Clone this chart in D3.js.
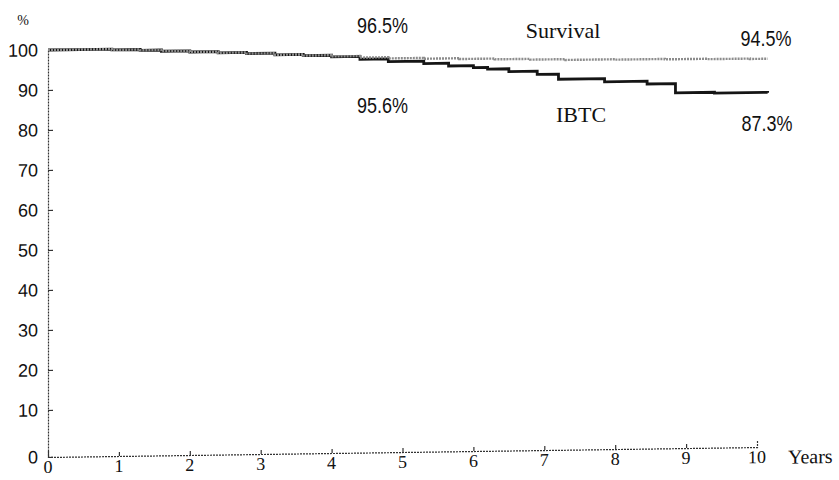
<!DOCTYPE html>
<html lang="en">
<head>
<meta charset="UTF-8">
<title>Survival and IBTC</title>
<script src="https://cdn.jsdelivr.net/npm/d3@7"></script>
<style>
  html, body { margin: 0; padding: 0; background: #fff; }
  svg { display: block; }
  .sans { font-family: "Liberation Sans Narrow", "Liberation Sans", Arial, sans-serif; }
  .serif { font-family: "Liberation Serif", "Times New Roman", serif; }
</style>
</head>
<body>
<svg id="chart" width="839" height="480"></svg>
<script>
// axis ticks
const yearTicks = [0, 1, 2, 3, 4, 5, 6, 7, 8, 9, 10];
const pctTicks = [0, 10, 20, 30, 40, 50, 60, 70, 80, 90, 100];

// survival curve (years, %)
const survivalYears = [0, 0.45, 0.9, 1.3, 1.6, 2.0, 2.4, 2.8, 3.2, 3.6, 4.0, 4.4, 4.8, 5.3, 5.8, 6.3, 6.8, 7.3, 8.0, 8.7, 9.3, 9.9, 10.15];
const survivalPct   = [100, 100, 99.8, 99.6, 99.3, 99.0, 98.7, 98.4, 98.0, 97.7, 97.4, 97.0, 96.7, 96.5, 96.3, 96.1, 95.9, 95.7, 95.6, 95.5, 95.4, 95.3, 95.3];

// IBTC curve (years, %)
const ibtcYears = [0, 0.45, 0.9, 1.3, 1.6, 2.0, 2.4, 2.8, 3.2, 3.6, 4.0, 4.4, 4.8, 5.3, 5.65, 6.0, 6.2, 6.5, 6.9, 7.2, 7.85, 8.45, 8.85, 9.4, 10.15];
const ibtcPct   = [100, 100, 99.8, 99.6, 99.3, 99.0, 98.7, 98.4, 98.0, 97.7, 97.3, 96.6, 95.9, 95.3, 94.6, 94.1, 93.7, 93.0, 92.2, 90.9, 90.1, 89.4, 87.1, 86.9, 86.8];

// text on the picture
const seriesNames = ['Survival', 'IBTC'];
const survivalMarks = ['96.5%', '94.5%'];
const ibtcMarks = ['95.6%', '87.3%'];

const svg = d3.select('#chart');
svg.append('rect').attr('width', 839).attr('height', 480).attr('fill', '#fff');

const x = d3.scaleLinear().domain([0, 10]).range([48, 757]);
// the zero line sits a little lower than the even 10-steps
const y = d3.scaleLinear().domain([0, 10, 100]).range([457, 410, 50]);

// the scan is a bit tilted: right side higher
const tilt = 0.014;
const plot = svg.append('g')
    .attr('transform', `translate(${x(0)},${y(0)}) matrix(1,${-tilt},0,1,0,0) translate(${-x(0)},${-y(0)})`);

// y axis, ticks point inward
const yAxis = plot.append('g')
    .attr('transform', `translate(${x(0)},0)`)
    .call(d3.axisLeft(y).tickValues(pctTicks).tickSizeInner(-5).tickSizeOuter(0).tickPadding(10));
yAxis.select('.domain').attr('stroke', '#333').attr('stroke-width', 1.2).attr('stroke-dasharray', '2,1');
yAxis.selectAll('.tick line').attr('stroke', '#333').attr('stroke-width', 1.2);
yAxis.selectAll('.tick text')
    .attr('class', 'sans')
    .style('font-size', '18px')
    .attr('fill', '#111');

// x axis, ticks point upward
const xAxis = plot.append('g')
    .attr('transform', `translate(0,${y(0)})`)
    .call(d3.axisBottom(x).tickValues(yearTicks.slice(1, -1)).tickSizeInner(-4).tickSizeOuter(-6).tickFormat(''));
xAxis.select('.domain').attr('stroke', '#333').attr('stroke-width', 1.2).attr('stroke-dasharray', '2,1');
xAxis.selectAll('.tick line').attr('stroke', '#333').attr('stroke-width', 1.2);

// x tick labels follow the tilt of the axis
plot.append('g').selectAll('text')
    .data(yearTicks)
    .enter()
    .append('text')
    .attr('class', 'serif')
    .attr('x', d => x(d))
    .attr('y', y(0) + 16)
    .attr('text-anchor', 'middle')
    .style('font-size', '18px')
    .attr('fill', '#111')
    .text(d => d);

plot.append('text')
    .attr('class', 'serif')
    .attr('x', x(10) + 31)
    .attr('y', y(0) + 17)
    .style('font-size', '20px')
    .attr('fill', '#111')
    .text('Years');

// step curves
const line = (xs, ys) => d3.line()
    .x(i => x(xs[i]))
    .y(i => y(ys[i]))
    .curve(d3.curveStepAfter)(d3.range(xs.length));

plot.append('path')
    .attr('d', line(ibtcYears, ibtcPct))
    .attr('fill', 'none')
    .attr('stroke', '#151515')
    .attr('stroke-width', 2.8);

plot.append('path')
    .attr('d', line(survivalYears, survivalPct))
    .attr('fill', 'none')
    .attr('stroke', '#8c8c8c')
    .attr('stroke-width', 2.4)
    .attr('stroke-dasharray', '2,1');

svg.append('text')
    .attr('class', 'serif')
    .attr('x', 23)
    .attr('y', 25)
    .attr('text-anchor', 'middle')
    .style('font-size', '14px')
    .attr('fill', '#111')
    .text('%');

// percentage marks at 5 and 10 years
function mark(txt, cx, by) {
    svg.append('text')
        .attr('class', 'sans')
        .attr('x', cx)
        .attr('y', by)
        .attr('text-anchor', 'middle')
        .attr('textLength', 51)
        .attr('lengthAdjust', 'spacingAndGlyphs')
        .style('font-size', '22px')
        .attr('fill', '#111')
        .text(txt);
}
mark(survivalMarks[0], x(5) - 20, 33);
mark(ibtcMarks[0], x(5) - 20, 113);
mark(survivalMarks[1], x(10) + 9, 46);
mark(ibtcMarks[1], x(10) + 10, 131);

// series names
svg.append('text')
    .attr('class', 'serif')
    .attr('x', 563)
    .attr('y', 38)
    .attr('text-anchor', 'middle')
    .style('font-size', '22px')
    .attr('fill', '#111')
    .text(seriesNames[0]);

svg.append('text')
    .attr('class', 'serif')
    .attr('x', 581)
    .attr('y', 122)
    .attr('text-anchor', 'middle')
    .style('font-size', '22px')
    .attr('fill', '#111')
    .text(seriesNames[1]);
</script>
</body>
</html>
